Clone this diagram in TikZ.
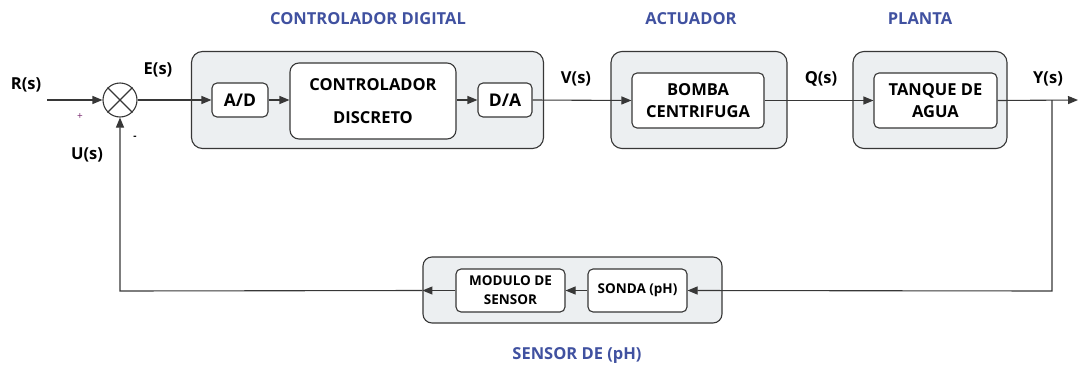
\documentclass[tikz,border=0pt]{standalone}
\usepackage{fontspec}
\setmainfont{Open Sans}
\usetikzlibrary{positioning, calc, arrows.meta}

\definecolor{grpfill}{RGB}{236,239,241}
\definecolor{grpline}{RGB}{55,55,55}
\definecolor{titleblue}{RGB}{64,81,160}
\definecolor{signpurple}{RGB}{120,40,110}

\begin{document}
\begin{tikzpicture}[x=1pt, y=-1pt,
  %% caixas de grupo (fundo cinza)
  gbox/.style={
    rectangle, draw=grpline, line width=1.1pt, rounded corners=11pt,
    fill=grpfill
  },
  %% blocos internos
  blk/.style={
    rectangle, draw=grpline, line width=1.1pt, rounded corners=5pt,
    fill=white, align=center, font=\bfseries\fontsize{16.5}{22}\selectfont,
    inner sep=1pt
  },
  %% setas
  arr/.style={-{Triangle[length=10pt,width=8pt]}, line width=1.1pt, grpline},
  %% sinais
  sig/.style={font=\bfseries\fontsize{16.5}{18}\selectfont},
  %% titulos de grupo
  grp/.style={font=\bfseries\fontsize{16.5}{18}\selectfont, text=titleblue}
]
\useasboundingbox (0,0) rectangle (1078,367);

%% ================================================================
%% GRUPOS
%% ================================================================
\node[gbox, minimum width=352pt, minimum height=97pt] (gctrl) at (367.5,100) {};
\node[gbox, minimum width=176pt, minimum height=97pt] (gact)  at (699,100) {};
\node[gbox, minimum width=154pt, minimum height=97pt] (gplan) at (930,100) {};
\node[gbox, minimum width=299pt, minimum height=66pt, rounded corners=9pt] (gsens) at (572.5,290) {};

\node[grp] (tctrl) at (368,19)  {CONTROLADOR DIGITAL};
\node[grp] (tact)  at (691,19)  {ACTUADOR};
\node[grp] (tplan) at (920,19)  {PLANTA};
\node[grp] (tsens) at (577,355) {SENSOR DE (pH)};

%% ================================================================
%% BLOCOS
%% ================================================================
\node[draw=grpline, line width=1.1pt, circle, minimum size=34pt, inner sep=0pt] (sum) at (120,100) {};
\draw[grpline, line width=1.1pt] (sum.45) -- (sum.225) (sum.135) -- (sum.315);

\node[blk, minimum width=56pt, minimum height=34pt, font=\bfseries\fontsize{17.5}{20}\selectfont] (ad) at (240,100) {A/D};
\node[blk, minimum width=166pt, minimum height=76pt, rounded corners=9pt,
      font=\bfseries\fontsize{16.5}{33}\selectfont] (ctrl) at (373,101) {CONTROLADOR\\DISCRETO};
\node[blk, minimum width=54pt, minimum height=34pt, font=\bfseries\fontsize{17.5}{20}\selectfont] (da) at (505,100) {D/A};

\node[blk, minimum width=132pt, minimum height=55pt] (bomba) at (698,100.5) {BOMBA\\CENTRIFUGA};
\node[blk, minimum width=123pt, minimum height=55pt] (tanque) at (935.5,100.5) {TANQUE DE\\AGUA};

\node[blk, minimum width=109pt, minimum height=43pt, font=\bfseries\fontsize{13.5}{19}\selectfont] (modulo) at (510.5,290.5) {MODULO DE\\SENSOR};
\node[blk, minimum width=99pt, minimum height=43pt, font=\bfseries\fontsize{13.5}{19}\selectfont] (sonda) at (637.5,290.5) {SONDA (pH)};

%% ================================================================
%% SINAIS
%% ================================================================
\coordinate (rin) at (47,100);
\coordinate (yout) at (1078,100);
\coordinate (ytap) at (1052,100);
\coordinate (ybot) at (1052,291);
\coordinate (ubot) at (120,291);

\draw[arr] (rin) -- (sum.west);
\draw[arr] (sum.east) -- (ad.west);
\draw[arr] (ad.east) -- (ad.east -| ctrl.west);
\draw[arr] (da.west -| ctrl.east) -- (da.west);
\draw[arr] (da.east) -- (bomba.west);
\draw[arr] (bomba.east) -- (tanque.west);
\draw[arr] (tanque.east) -- (yout);
\draw[arr] (ytap) -- (ybot) -- (sonda.east);
\draw[arr] (sonda.west) -- (modulo.east);
\draw[arr] (modulo.west) -- (modulo.west -| gsens.west);
\draw[arr] (modulo.west -| gsens.west) -- (ubot) -- (sum.south);

\node[sig] (lr) at (26,85)  {R(s)};
\node[sig] (le) at (158,70) {E(s)};
\node[sig] (lu) at (87,155) {U(s)};
\node[sig] (lv) at (576,79) {V(s)};
\node[sig] (lq) at (821,79) {Q(s)};
\node[sig] (ly) at (1048,79) {Y(s)};

\node[font=\fontsize{10}{10}\selectfont, text=signpurple] (plus) at (80,117) {+};
\node[font=\bfseries\fontsize{10}{10}\selectfont] (minus) at (135,138) {-};

\end{tikzpicture}
\end{document}
